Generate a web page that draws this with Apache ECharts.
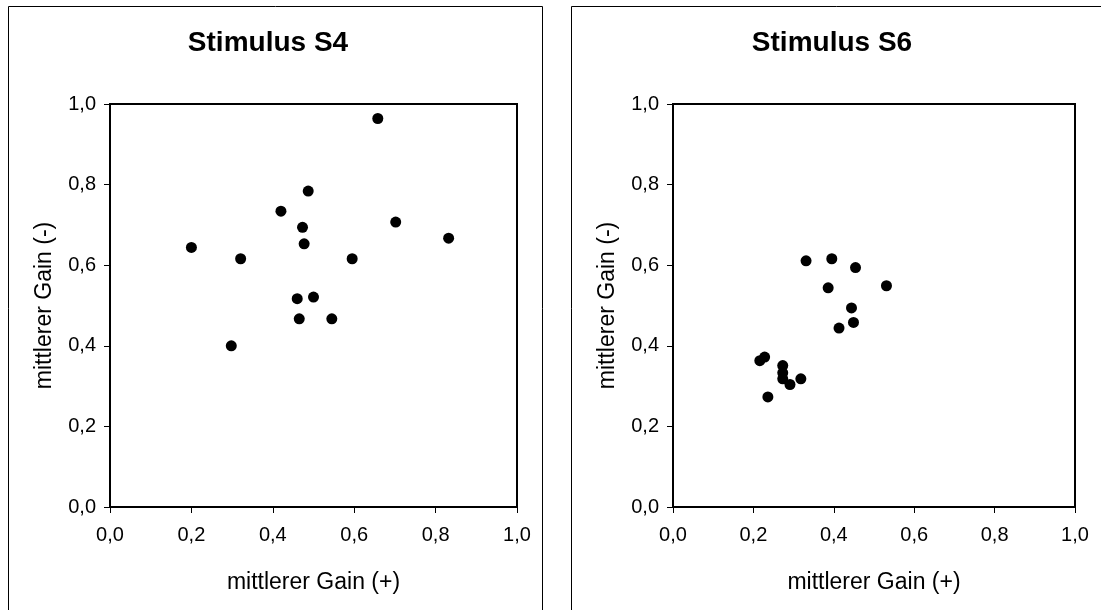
<!DOCTYPE html>
<html>
<head>
<meta charset="utf-8">
<script src="https://cdn.jsdelivr.net/npm/echarts@6/dist/echarts.min.js"></script>
<style>
html,body{margin:0;padding:0;background:#fff;}
#c{width:1101px;height:610px;}
</style>
</head>
<body>
<div id="c"></div>
<script>
const titles = ['Stimulus S4', 'Stimulus S6'];
const xAxisName = 'mittlerer Gain (+)';
const yAxisName = 'mittlerer Gain (-)';
const tickValues = [0, 0.2, 0.4, 0.6, 0.8, 1.0];

const s4x = [0.658, 0.487, 0.420, 0.473, 0.702, 0.832, 0.200, 0.477, 0.321, 0.595, 0.460, 0.500, 0.465, 0.545, 0.298];
const s4y = [0.964, 0.784, 0.734, 0.694, 0.707, 0.667, 0.644, 0.653, 0.616, 0.616, 0.517, 0.521, 0.467, 0.467, 0.400];

const s6x = [0.331, 0.395, 0.454, 0.386, 0.531, 0.444, 0.449, 0.413, 0.228, 0.216, 0.273, 0.273, 0.273, 0.291, 0.318, 0.236];
const s6y = [0.611, 0.616, 0.594, 0.544, 0.549, 0.494, 0.458, 0.444, 0.372, 0.363, 0.351, 0.333, 0.318, 0.304, 0.318, 0.273];

const FONT = 'Arial, "Liberation Sans", sans-serif';
const fmt = v => v.toFixed(1).replace('.', ',');

function pairs(xs, ys){ return xs.map((x,i)=>[x, ys[i]]); }

const grids = [
  {left:110, top:104, width:407, height:403},
  {left:673, top:104, width:402, height:403}
];

function xAx(i){
  return {
    type:'value', gridIndex:i, min:0, max:1, interval:0.2,
    name:xAxisName, nameLocation:'middle', nameGap:64,
    nameTextStyle:{fontFamily:FONT, fontSize:23, color:'#000'},
    axisLine:{show:true, onZero:false, lineStyle:{color:'#000', width:2}},
    axisTick:{show:true, inside:false, length:6, lineStyle:{color:'#000', width:1}},
    axisLabel:{fontFamily:FONT, fontSize:20, color:'#000', margin:18, formatter:fmt},
    splitLine:{show:false}
  };
}
function yAx(i){
  return {
    type:'value', gridIndex:i, min:0, max:1, interval:0.2,
    name:yAxisName, nameLocation:'middle', nameGap:54,
    nameTextStyle:{fontFamily:FONT, fontSize:23, color:'#000'},
    axisLine:{show:true, onZero:false, lineStyle:{color:'#000', width:2}},
    axisTick:{show:true, inside:false, length:6, lineStyle:{color:'#000', width:1}},
    axisLabel:{fontFamily:FONT, fontSize:20, color:'#000', margin:14, formatter:fmt},
    splitLine:{show:false}
  };
}

const chart = echarts.init(document.getElementById('c'), null, {renderer:'canvas'});
chart.setOption({
  backgroundColor:'#fff',
  animation:false,
  title:[
    {text:titles[0], left:268, top:29, textAlign:'center', padding:0,
     textStyle:{fontFamily:FONT, fontSize:28, fontWeight:'bold', color:'#000'}},
    {text:titles[1], left:832, top:29, textAlign:'center', padding:0,
     textStyle:{fontFamily:FONT, fontSize:28, fontWeight:'bold', color:'#000'}}
  ],
  graphic:[
    {type:'rect', shape:{x:8.5, y:6.5, width:534, height:640}, style:{fill:null, stroke:'#000', lineWidth:1}, z:-1},
    {type:'rect', shape:{x:571.5, y:6.5, width:560, height:640}, style:{fill:null, stroke:'#000', lineWidth:1}, z:-1}
  ],
  grid: grids.map(g => Object.assign({show:true, borderColor:'#000', borderWidth:2, backgroundColor:'#fff', containLabel:false}, g)),
  xAxis:[xAx(0), xAx(1)],
  yAxis:[yAx(0), yAx(1)],
  series:[
    {type:'scatter', xAxisIndex:0, yAxisIndex:0, data:pairs(s4x, s4y), symbol:'circle', symbolSize:11, itemStyle:{color:'#000', opacity:1}},
    {type:'scatter', xAxisIndex:1, yAxisIndex:1, data:pairs(s6x, s6y), symbol:'circle', symbolSize:11, itemStyle:{color:'#000', opacity:1}}
  ]
});
</script>
</body>
</html>
